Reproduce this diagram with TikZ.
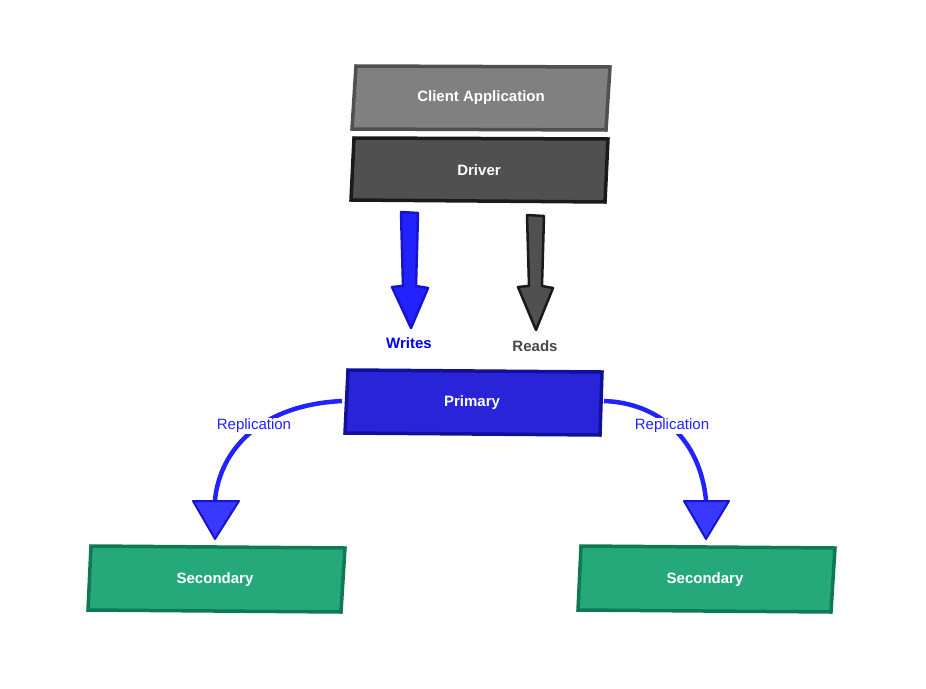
\documentclass[tikz,border=0pt]{standalone}
\usepackage{fontspec}
\setmainfont{Liberation Sans}
\usetikzlibrary{arrows.meta}
\definecolor{cgray}{HTML}{808080}
\definecolor{cgrayb}{HTML}{505050}
\definecolor{dgray}{HTML}{505050}
\definecolor{dgrayb}{HTML}{1A1A1A}
\definecolor{pblue}{HTML}{2A24D8}
\definecolor{pblueb}{HTML}{10109A}
\definecolor{sgreen}{HTML}{26A97A}
\definecolor{sgreenb}{HTML}{0D7A50}
\definecolor{wblue}{HTML}{2222FF}
\definecolor{wblueb}{HTML}{1515D0}
\tikzset{
  box/.style={line width=3.5pt, line join=miter},
  btxt/.style={text=white, font=\fontsize{15}{18}\selectfont\bfseries},
  fat/.style={line width=2.5pt, line join=round},
  repl/.style={draw=wblue, line width=4.5pt},
  rhead/.style={fill=wblue, draw=wblueb, line width=2pt, line join=round, fill opacity=0.9},
  rlab/.style={fill=white, inner sep=1pt, text=wblue, font=\fontsize{15}{18}\selectfont},
}
\begin{document}
\begin{tikzpicture}[x=1pt,y=-1pt]
\useasboundingbox (0,0) rectangle (926,688);
% boxes
\draw[box, fill=cgray, draw=cgrayb] (356,66) -- (610,67) -- (606,130) -- (352,129) -- cycle;
\node[btxt] (client) at (481,98) {Client Application};
\draw[box, fill=dgray, draw=dgrayb] (354,138) -- (608,139) -- (605,202) -- (351,200) -- cycle;
\node[btxt] (driver) at (479,170) {Driver};
\draw[box, fill=pblue, draw=pblueb] (348,370) -- (602,372) -- (600,435) -- (345,433) -- cycle;
\node[btxt] (primary) at (472,403) {Primary};
\draw[box, fill=sgreen, draw=sgreenb] (91,546) -- (345,548) -- (341,612) -- (88,610) -- cycle;
\node[btxt] (sec1) at (215,580) {Secondary};
\draw[box, fill=sgreen, draw=sgreenb] (581,546) -- (835,548) -- (831,612) -- (578,610) -- cycle;
\node[btxt] (sec2) at (705,580) {Secondary};
% labels
\node[text=blue, font=\fontsize{15}{18}\selectfont\bfseries] (writes) at (409,343) {Writes};
\node[text=dgrayb!80, font=\fontsize{15}{18}\selectfont\bfseries] (reads) at (535,346) {Reads};
% fat arrows
\coordinate (wtip) at (411,328);
\coordinate (rtip) at (536,330);
\draw[fat, fill=wblue, draw=wblueb] (401,212) -- (418,213) -- (416,286) -- (428,288) -- (wtip) -- (392,287) -- (403,286) -- cycle;
\draw[fat, fill=dgray, draw=dgrayb] (527,215) -- (544,216) -- (542,286) -- (553,288) -- (rtip) -- (518,287) -- (529,286) -- cycle;
% replication
\coordinate (l1) at (215,500);
\coordinate (r1) at (706,500);
\draw[repl] (342,401) .. controls (260,405) and (220,450) .. (l1);
\draw[repl] (604,401) .. controls (660,403) and (700,440) .. (r1);
\draw[rhead] (193,501) -- (239,501) -- (215,539) -- cycle;
\draw[rhead] (684,501) -- (729,501) -- (706,539) -- cycle;
\node[rlab] (rl1) at (254,426) {Replication};
\node[rlab] (rl2) at (672,426) {Replication};
\end{tikzpicture}
\end{document}
